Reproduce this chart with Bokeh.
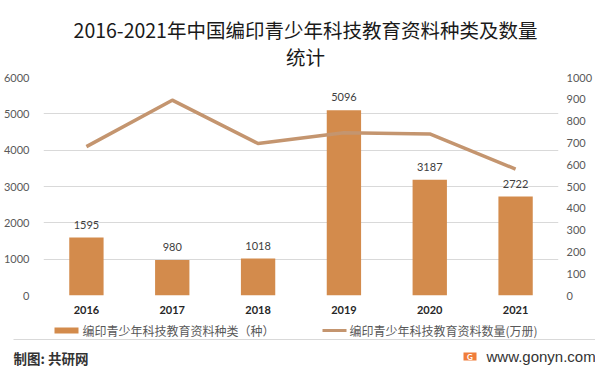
from bokeh.plotting import figure
from bokeh.layouts import column
from bokeh.models import (Range1d, LinearAxis, Label, FixedTicker,
                          ColumnDataSource, BoxAnnotation)
from bokeh.core.properties import value
from bokeh.embed import file_html
from bokeh.resources import INLINE

years = ["2016", "2017", "2018", "2019", "2020", "2021"]
kinds = [1595, 980, 1018, 5096, 3187, 2722]
volumes = [683, 896, 697, 747, 741, 580]
left_ticks = [0, 1000, 2000, 3000, 4000, 5000, 6000]
right_ticks = [0, 100, 200, 300, 400, 500, 600, 700, 800, 900, 1000]
bar_name = "编印青少年科技教育资料种类（种）"
line_name = "编印青少年科技教育资料数量(万册)"
title1 = "2016-2021年中国编印青少年科技教育资料种类及数量"
title2 = "统计"

W = 595
CJK = "Noto Sans CJK SC"
NUM = "Lato"
BAR_C = "#D38B4C"
LINE_C = "#C4956F"


def blank(h):
    f = figure(width=W, height=h, x_range=Range1d(0, W), y_range=Range1d(0, h),
               output_backend="svg", toolbar_location=None,
               x_axis_location=None, y_axis_location=None,
               min_border=0, min_border_left=0, min_border_right=0,
               min_border_top=0, min_border_bottom=0)
    f.frame_align = False
    f.grid.visible = False
    f.outline_line_color = None
    return f


def box(f, l, r, t, b, color):
    f.add_layout(BoxAnnotation(left=l, right=r, top=t, bottom=b, left_units="screen",
                               right_units="screen", top_units="screen", bottom_units="screen",
                               fill_color=color, fill_alpha=1, line_color=None))


def label(f, x, y, text, font=CJK, size="12px", color="#595959", align="left",
          style="normal", baseline="middle"):
    f.add_layout(Label(x=x, y=y, x_units="screen", y_units="screen", text=text,
                       text_align=align, text_baseline=baseline, text_font=font,
                       text_font_size=size, text_color=color, text_font_style=style))


# ---- header ----
HH = 71
head = blank(HH)
label(head, 305, 42, title1, size="19.5px", color="#1a1a1a", align="center")
label(head, 305, 0.5, title2, size="19.5px", color="#1a1a1a", align="center",
      baseline="bottom")

# ---- main chart ----
src = ColumnDataSource(dict(x=years, kinds=kinds, volumes=volumes,
                            lbl=[str(v) for v in kinds]))
p = figure(width=W, height=249, x_range=years, y_range=Range1d(0, 6000),
           output_backend="svg", toolbar_location=None,
           min_border_left=31, min_border_right=26, min_border_top=6, min_border_bottom=25)
p.frame_align = False
p.extra_y_ranges = {"r": Range1d(0, 1000)}
p.outline_line_color = None

p.xgrid.grid_line_color = None
p.ygrid.grid_line_color = "#D9D9D9"
p.ygrid.ticker = FixedTicker(ticks=left_ticks)

p.yaxis.ticker = FixedTicker(ticks=left_ticks)
ax = p.yaxis[0]
ax.axis_line_color = None
ax.major_tick_line_color = None
ax.minor_tick_line_color = None
ax.major_label_text_font = NUM
ax.major_label_text_font_size = "11px"
ax.major_label_text_color = "#595959"
ax.major_label_standoff = 8

p.xaxis.axis_line_color = None
p.xaxis.major_tick_line_color = None
p.xaxis.major_label_text_font = NUM
p.xaxis.major_label_text_font_size = "11px"
p.xaxis.major_label_text_font_style = "bold"
p.xaxis.major_label_text_color = "#262626"
p.xaxis.major_label_standoff = 4

rax = LinearAxis(y_range_name="r", ticker=FixedTicker(ticks=right_ticks))
rax.axis_line_color = None
rax.major_tick_line_color = None
rax.minor_tick_line_color = None
rax.major_label_text_font = NUM
rax.major_label_text_font_size = "11px"
rax.major_label_text_color = "#595959"
rax.major_label_standoff = 2
p.add_layout(rax, "right")

p.vbar(x="x", top="kinds", width=0.4, source=src, fill_color=BAR_C, line_color=None)
p.line(x="x", y="volumes", source=src, y_range_name="r", line_color=LINE_C,
       line_width=3.5, line_join="round")
p.text(x="x", y="kinds", text="lbl", source=src, text_align="center", text_baseline="bottom",
       y_offset=-9, text_font=value(NUM), text_font_size="11px", text_color="#404040")

# ---- footer with legend ----
FH = 47
foot = blank(FH)
box(foot, 54, 78, 40, 34, BAR_C)
label(foot, 82, 37, bar_name)
box(foot, 322, 346, 38.5, 35.5, LINE_C)
label(foot, 349, 37, line_name)
box(foot, 13, 595, 28.5, 27.5, "#D9D9D9")
label(foot, 13, 10, "制图: 共研网", size="13.5px", color="#333333", style="bold")
box(foot, 463, 476, 15, 7, "#F07D3A")
label(foot, 469.5, 11, "G", font=NUM, size="8px", color="white", align="center", style="bold")
label(foot, 486, 11, "www.gonyn.com", font="Liberation Sans", size="15px", color="#333333")

layout = column(head, p, foot, spacing=0)
open("out.html", "w").write(file_html(layout, INLINE))
